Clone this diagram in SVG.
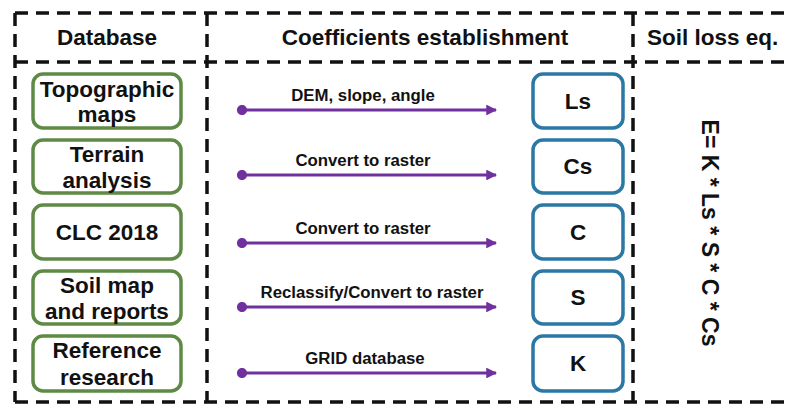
<svg xmlns="http://www.w3.org/2000/svg" width="790" height="405" viewBox="0 0 790 405">
<defs>
<style>
.dash{stroke:#111;stroke-width:3.5;stroke-dasharray:13 8;fill:none}
.t{font-family:"Liberation Sans",Arial,sans-serif;font-weight:bold;fill:#111;text-anchor:middle}
.h{font-size:22.5px}
.b{font-size:22.5px}
.l{font-size:16.8px}
.src rect{fill:#fff;stroke:#5e8a45;stroke-width:3.5}
.tgt rect{fill:#fff;stroke:#2b78a5;stroke-width:3.5}
.arr{stroke:#7030a0;stroke-width:3;fill:none;marker-end:url(#ah);marker-start:url(#dot)}
</style>
<marker id="ah" viewBox="0 0 10 10" refX="9" refY="5" markerWidth="3.6" markerHeight="3.6" orient="auto" markerUnits="strokeWidth">
<path d="M0,0 L10,5 L0,10 z" fill="#7030a0"/>
</marker>
<marker id="dot" viewBox="0 0 10 10" refX="5" refY="5" markerWidth="3.4" markerHeight="3.4" orient="auto" markerUnits="strokeWidth">
<circle cx="5" cy="5" r="5" fill="#7030a0"/>
</marker>
</defs>
<rect width="790" height="405" fill="#fff"/>
<g id="frame">
<path class="dash" d="M15,13 H800 M15,62 H800 M15,402 H800 M15,13 V402 M207,13 V402 M633,13 V402"/>
</g>
<g id="headers">
<text class="t h" x="107" y="45">Database</text>
<text class="t h" x="425" y="45">Coefficients establishment</text>
<text class="t h" x="647" y="45" style="text-anchor:start">Soil loss eq.</text>
</g>
<g id="src-topo" class="src"><rect x="33" y="74" width="148" height="54" rx="10"/><text class="t b" x="107" y="97">Topographic</text><text class="t b" x="107" y="122">maps</text></g>
<g id="src-terrain" class="src"><rect x="33" y="140" width="148" height="53" rx="10"/><text class="t b" x="107" y="162">Terrain</text><text class="t b" x="107" y="188">analysis</text></g>
<g id="src-clc" class="src"><rect x="33" y="205" width="148" height="54" rx="10"/><text class="t b" x="107" y="240">CLC 2018</text></g>
<g id="src-soil" class="src"><rect x="33" y="271" width="148" height="53" rx="10"/><text class="t b" x="107" y="293">Soil map</text><text class="t b" x="107" y="319">and reports</text></g>
<g id="src-ref" class="src"><rect x="33" y="336" width="148" height="55" rx="10"/><text class="t b" x="107" y="358">Reference</text><text class="t b" x="107" y="385">research</text></g>
<g id="tgt-ls" class="tgt"><rect x="533" y="74" width="90" height="54" rx="10"/><text class="t b" x="578" y="109">Ls</text></g>
<g id="tgt-cs" class="tgt"><rect x="533" y="140" width="90" height="53" rx="10"/><text class="t b" x="578" y="174">Cs</text></g>
<g id="tgt-c" class="tgt"><rect x="533" y="205" width="90" height="54" rx="10"/><text class="t b" x="578" y="240">C</text></g>
<g id="tgt-s" class="tgt"><rect x="533" y="271" width="90" height="53" rx="10"/><text class="t b" x="578" y="305">S</text></g>
<g id="tgt-k" class="tgt"><rect x="533" y="336" width="90" height="55" rx="10"/><text class="t b" x="578" y="371">K</text></g>
<g id="connectors">
<path class="arr" d="M242,110 H496"/>
<path class="arr" d="M242,175 H496"/>
<path class="arr" d="M242,243 H496"/>
<path class="arr" d="M242,307 H496"/>
<path class="arr" d="M242,373 H496"/>
<text class="t l" x="363" y="101">DEM, slope, angle</text>
<text class="t l" x="363" y="166">Convert to raster</text>
<text class="t l" x="363" y="234">Convert to raster</text>
<text class="t l" x="372" y="298">Reclassify/Convert to raster</text>
<text class="t l" x="365" y="364">GRID database</text>
</g>
<g id="equation">
<text class="t" style="font-size:23px" transform="translate(702,233) rotate(90)">E= K * Ls * S * C * Cs</text>
</g>
</svg>
